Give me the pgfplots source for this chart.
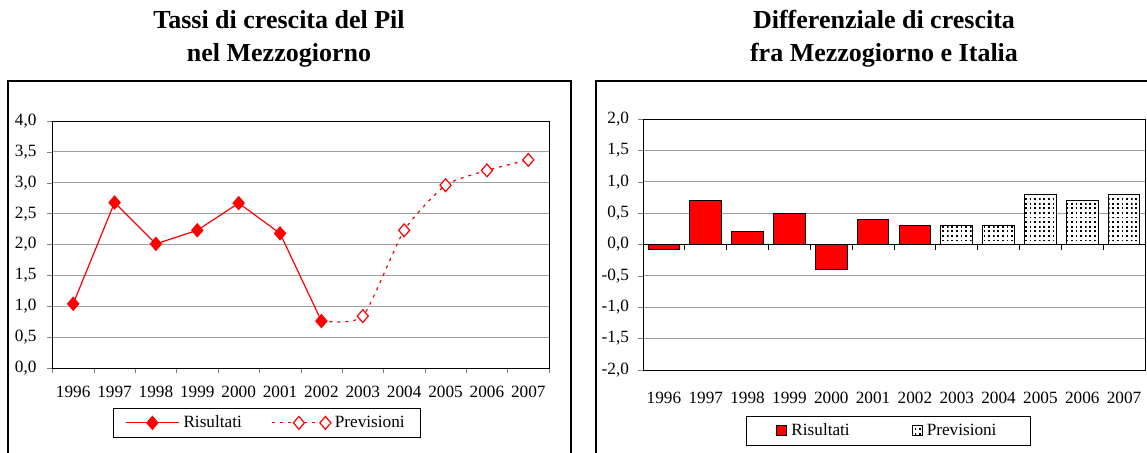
\documentclass[border=0pt]{standalone}
\usepackage{fontspec}
\setmainfont{Liberation Serif}
\usepackage{pgfplots}
\pgfplotsset{compat=1.18}
\usetikzlibrary{patterns}
\pgfdeclarepatternformonly{densedots}{\pgfqpoint{-0.5pt}{-0.5pt}}{\pgfqpoint{0.5pt}{0.5pt}}{\pgfqpoint{2.3pt}{2.3pt}}{\pgfpathrectangle{\pgfqpoint{-0.45pt}{-0.45pt}}{\pgfqpoint{0.9pt}{0.9pt}}\pgfusepath{fill}}
\pgfplotsset{
  common/.style={
    scale only axis,
    font=\fontsize{8.6}{10}\selectfont,
    xmin=-0.5, xmax=11.5,
    xtick={0,...,11},
    xticklabels={1996,1997,1998,1999,2000,2001,2002,2003,2004,2005,2006,2007},
    major x tick style={draw=none},
    tick pos=left, tick align=outside,
    major tick length=2.5pt, minor tick length=2.5pt,
    ymajorgrids,
    grid style={draw=gray!75, line width=0.5pt},
    axis line style={line width=0.5pt},
    legend cell align=left,
  }
}
\begin{document}
\begin{tikzpicture}
\useasboundingbox (0,0) rectangle (573.5pt,226pt);
\begin{scope}
\clip (0,0) rectangle (573.5pt,226pt);
\draw[line width=0.75pt] (4pt,-5pt) rectangle (285.5pt,185.5pt);
\draw[line width=0.75pt] (298pt,-5pt) rectangle (600pt,185.5pt);
\end{scope}
\node[font=\bfseries\fontsize{13}{16.5}\selectfont, align=center] at (139.5pt,206.75pt) {Tassi di crescita del Pil\\nel Mezzogiorno};
\node[font=\bfseries\fontsize{13}{16.5}\selectfont, align=center] at (442pt,206.75pt) {Differenziale di crescita\\fra Mezzogiorno e Italia};

\begin{axis}[common,
  at={(26.25pt,42pt)}, anchor=south west,
  width=248.25pt, height=123.5pt,
  ymin=0, ymax=4,
  minor xtick={-0.5,0.5,...,11.5},
  ytick={0,0.5,...,4},
  yticklabels={{0,0},{0,5},{1,0},{1,5},{2,0},{2,5},{3,0},{3,5},{4,0}},
  xticklabel style={yshift=-3pt},
  yticklabel style={xshift=-2pt},
  legend columns=2,
  legend style={at={(0.432,-0.222)}, anchor=center, draw=black, line width=0.5pt,
    inner xsep=6pt, inner ysep=1.5pt,
    /tikz/every even column/.append style={column sep=13pt}},
  legend image code/.code={\draw[mark repeat=2,mark phase=2] plot coordinates {(0pt,0pt)(13.25pt,0pt)(26.5pt,0pt)};},
]
\addplot[red, line width=0.6pt, mark=diamond*, mark size=3.2pt, mark options={solid, fill=red, xscale=1.15}]
  coordinates {(0,1.04)(1,2.68)(2,2.01)(3,2.23)(4,2.67)(5,2.18)(6,0.76)};
\addlegendentry{Risultati}
\addplot[red, line width=0.6pt, dash pattern=on 1.5pt off 2.5pt, smooth, tension=0.35,
  mark=diamond*, mark size=3.2pt, mark options={solid, fill=white, xscale=1.15}, mark indices={2,3,4,5,6}]
  coordinates {(6,0.76)(7,0.84)(8,2.23)(9,2.96)(10,3.2)(11,3.37)};
\addlegendentry{Previsioni}
\end{axis}

\begin{axis}[common,
  at={(321.5pt,41pt)}, anchor=south west,
  width=251pt, height=125.5pt,
  ymin=-2, ymax=2,
  ytick={-2,-1.5,...,2},
  yticklabels={{-2,0},{-1,5},{-1,0},{-0,5},{0,0},{0,5},{1,0},{1,5},{2,0}},
  xticklabel style={yshift=-5pt},
  yticklabel style={xshift=-1pt},
  ybar, bar width=0.76, bar shift=0pt,
  legend columns=2,
  legend style={at={(0.489,-0.243)}, anchor=center, draw=black, line width=0.5pt,
    inner xsep=15pt, inner ysep=1.5pt,
    /tikz/every even column/.append style={column sep=29pt}},
  legend image code/.code={\draw[#1] (0pt,-2.5pt) rectangle (5pt,2.5pt);},
]
\addplot[fill=red, draw=black, line width=0.5pt]
  coordinates {(0,-0.08)(1,0.7)(2,0.2)(3,0.5)(4,-0.4)(5,0.4)(6,0.3)};
\addlegendentry{Risultati}
\addplot[fill=white, draw=black, line width=0.5pt, postaction={pattern=densedots}]
  coordinates {(7,0.3)(8,0.3)(9,0.8)(10,0.7)(11,0.8)};
\addlegendentry{Previsioni}
\draw[black, line width=0.5pt] (axis cs:-0.5,0) -- (axis cs:11.5,0);
\pgfplotsinvokeforeach{0.5,1.5,2.5,3.5,4.5,5.5,6.5,7.5,8.5,9.5,10.5}{
  \draw[black, line width=0.5pt] (axis cs:#1,0) -- ++(0pt,-2.5pt);
}
\end{axis}
\end{tikzpicture}
\end{document}
